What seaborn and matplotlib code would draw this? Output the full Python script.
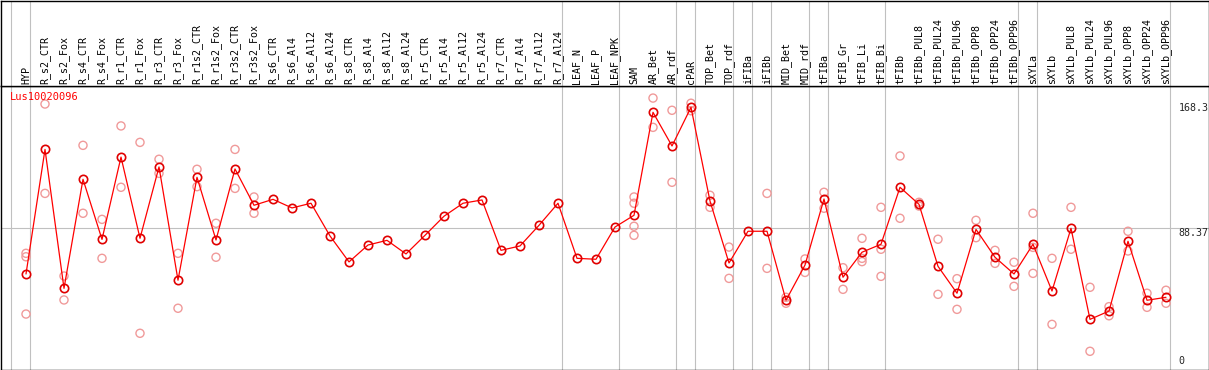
import matplotlib
matplotlib.use("Agg")
import matplotlib.pyplot as plt
import matplotlib.transforms as mtransforms
import pandas as pd
import seaborn as sns

# Dados
categorias = [
    "HYP", "R_s2_CTR", "R_s2_Fox", "R_s4_CTR", "R_s4_Fox", "R_r1_CTR", "R_r1_Fox",
    "R_r3_CTR", "R_r3_Fox", "R_r1s2_CTR", "R_r1s2_Fox", "R_r3s2_CTR", "R_r3s2_Fox",
    "R_s6_CTR", "R_s6_Al4", "R_s6_Al12", "R_s6_Al24", "R_s8_CTR", "R_s8_Al4",
    "R_s8_Al12", "R_s8_Al24", "R_r5_CTR", "R_r5_Al4", "R_r5_Al12", "R_r5_Al24",
    "R_r7_CTR", "R_r7_Al4", "R_r7_Al12", "R_r7_Al24", "LEAF_N", "LEAF_P", "LEAF_NPK",
    "SAM", "AR_Bet", "AR_rdf", "cPAR", "TOP_Bet", "TOP_rdf", "iFIBa", "iFIBb",
    "MID_Bet", "MID_rdf", "tFIBa", "tFIB_Gr", "tFIB_Li", "tFIB_Bi", "tFIBb",
    "tFIBb_PUL8", "tFIBb_PUL24", "tFIBb_PUL96", "tFIBb_OPP8", "tFIBb_OPP24",
    "tFIBb_OPP96", "sXYLa", "sXYLb", "sXYLb_PUL8", "sXYLb_PUL24", "sXYLb_PUL96",
    "sXYLb_OPP8", "sXYLb_OPP24", "sXYLb_OPP96",
]

medias = [
    58.8, 138.4, 49.6, 119.3, 80.9, 133.5, 81.6, 127.2, 54.8, 120.6, 80.5, 125.9, 102.7,
    106.5, 101.0, 104.0, 83.1, 66.5, 77.3, 80.3, 71.6, 83.5, 95.7, 104.0, 106.1,
    73.9, 76.7, 89.9, 104.0, 68.8, 68.2, 88.8,
    96.3, 162.1, 140.6, 165.3, 105.4, 65.8, 86.1, 86.1, 42.0, 64.5, 106.7, 56.7,
    72.7, 77.8, 114.2, 103.3, 63.7, 46.5, 87.3, 69.5, 58.8, 77.8, 47.9, 88.0,
    29.8, 35.1, 79.7, 42.0, 43.9,
]

replicatas = [
    [72.0, 69.8, 33.2], [167.4, 110.3], [57.5, 42.2], [141.0, 97.6], [93.7, 68.8],
    [153.4, 114.2], [142.9, 20.9], [132.1, 123.1], [72.0, 36.9], [125.7, 114.6],
    [91.2, 69.5], [138.4, 113.5], [108.0, 97.6],
    [], [], [], [], [], [], [], [], [], [], [], [], [], [], [], [], [], [], [],
    [108.0, 104.0, 89.3, 83.5], [171.2, 152.5], [163.4, 117.4], [167.9, 163.1],
    [109.1, 101.4], [76.0, 56.0], [], [110.3, 62.4], [43.9, 40.1], [68.4, 59.8],
    [111.0, 100.8], [62.8, 49.0], [81.6, 68.8, 66.7], [101.4, 74.6, 57.3],
    [134.2, 94.4], [104.6, 102.2], [81.0, 45.8], [55.8, 36.2], [93.1, 82.0],
    [73.9, 65.6], [66.3, 50.9], [97.6, 75.8, 59.2], [68.8, 26.6], [101.4, 74.6],
    [50.3, 9.4], [37.9, 32.1], [86.1, 73.5], [46.5, 37.5], [48.4, 40.1],
]

# Início de cada grupo de amostras (linhas verticais)
inicio_grupos = [0, 1, 29, 32, 35, 36, 38, 39, 40, 42, 43, 46, 53, 54, 61]

rotulos_y = [168.3, 88.37, 0]
linha_media = 88.37

df = pd.DataFrame({"pos": range(len(categorias)), "valor": medias})
df_rep = pd.DataFrame(
    [(i, v) for i, vals in enumerate(replicatas) for v in vals],
    columns=["pos", "valor"],
)

sns.set_style("white")
plt.rcParams["font.family"] = ["DejaVu Sans Mono", "DejaVu Sans"]

W, H = 1209, 370
fig = plt.figure(figsize=(W / 100, H / 100), dpi=100)

# área do gráfico e área dos rótulos (em pixels)
topo_plot = 85.5
ax = fig.add_axes([0.5 / W, 0.5 / H, 1208 / W, (H - 0.5 - topo_plot) / H])
ax_top = fig.add_axes([0.5 / W, (H - topo_plot) / H, 1208 / W, (topo_plot - 0.5) / H], sharex=ax)

xmin = -(26 - 0.5) / 19
xmax = xmin + 1208 / 19
ymin = -(369.5 - 366) / 1.565
ymax = ymin + 284 / 1.565
ax.set_xlim(xmin, xmax)
ax.set_ylim(ymin, ymax)

cinza = "#c0c0c0"
for g in inicio_grupos:
    ax.axvline(g - 0.77, color=cinza, lw=0.8, zorder=0)
    ax_top.axvline(g - 0.77, color=cinza, lw=0.8, zorder=0)
ax.axhline(linha_media, color=cinza, lw=0.8, zorder=0)

sns.scatterplot(data=df_rep, x="pos", y="valor", ax=ax, marker="o", s=34,
                facecolor="none", edgecolor="#f09a9a", linewidth=1.0, zorder=2)
sns.lineplot(data=df, x="pos", y="valor", ax=ax, sort=False, color="red", lw=0.9,
             marker="o", markersize=6, markerfacecolor="none", markeredgecolor="#e00000",
             markeredgewidth=1.2, zorder=3)

ax.set_xlabel("")
ax.set_ylabel("")
ax.set_xticks([])
ax.set_yticks([])
ax_top.set_yticks([])
ax_top.tick_params(labelbottom=False, bottom=False)
for a in (ax, ax_top):
    for s in a.spines.values():
        s.set_color("black")
        s.set_linewidth(1.0)

# rótulos das amostras, verticais
for i, nome in enumerate(categorias):
    ax_top.text(i, 2.0 / 85, nome, rotation=90, ha="center", va="bottom",
                fontsize=7.2, color="black", transform=ax_top.get_xaxis_transform())

# rótulos do eixo à direita
trans = mtransforms.blended_transform_factory(ax.transAxes, ax.transData)
for v in rotulos_y:
    ax.text((1178.5 - 0.5) / 1208, v, f"{v:g}", ha="left",
            va="top" if v > 0 else "bottom", fontsize=7.2, transform=trans, clip_on=True)

ax.text(9.5 / 1208, 1 - 6 / 284, "Lus10020096", color="red", fontsize=7.5,
        ha="left", va="top", transform=ax.transAxes)

fig.savefig("out.png", dpi=100)
